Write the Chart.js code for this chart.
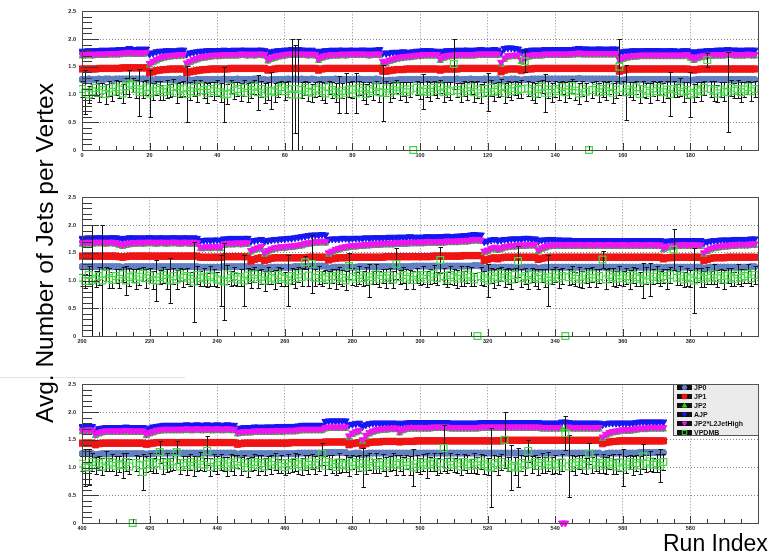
<!DOCTYPE html>
<html>
<head>
<meta charset="utf-8">
<script src="https://cdn.jsdelivr.net/npm/chart.js@4.4.1/dist/chart.umd.min.js"></script>
<style>
  body { margin: 0; background: #fff; }
  #page { position: relative; width: 777px; height: 560px; overflow: hidden; background: #fff; font-family: "Liberation Sans", Arial, sans-serif; }
  .panel { position: absolute; left: 0; filter: blur(0.35px); }
  #ytitle { position: absolute; left: 0; top: 0; transform-origin: 0 0; transform: translate(33px, 423px) rotate(-90deg);
            font-size: 24.5px; line-height: 1; white-space: nowrap; color: #000; }
  #xtitle { position: absolute; left: 663px; top: 532px; font-size: 23px; line-height: 1; white-space: nowrap; color: #000; }
  #rule { position: absolute; left: 0; top: 377px; width: 185px; height: 1px; background: #e4e4e4; }
</style>
</head>
<body>
<div id="page">
  <div id="rule"></div>
  <canvas id="p0" class="panel" width="777" height="161" style="top:2px"></canvas>
  <canvas id="p1" class="panel" width="777" height="161" style="top:188px"></canvas>
  <canvas id="p2" class="panel" width="777" height="161" style="top:375px"></canvas>
  <div id="ytitle">Avg. Number of Jets per Vertex</div>
  <div id="xtitle">Run Index</div>
</div>
<script>
// run index ranges shown in the three pads
const PANEL_RANGES = [[0, 200], [200, 400], [400, 600]];
const X_STEP = 20;
const Y_MAX = 2.5;
const Y_STEP = 0.5;

// all values below are in units of 0.01 (avg jets per vertex x 100), one entry per run, runs 0..572
const JP0 = [
  // runs 0-199
  127,127,128,127,127,128,127,128,128,127, 128,128,128,128,128,128,128,128,128,128,
  125,126,127,127,127,127,127,127,127,128, 127,125,126,126,127,127,127,127,127,127,
  127,127,128,127,127,127,128,127,127,127, 127,128,127,127,127,126,127,127,127,127,
  127,128,127,128,127,128,127,127,128,127, 126,127,127,127,127,128,127,127,127,127,
  127,127,128,127,127,127,127,128,127,125, 125,126,126,126,127,127,127,127,127,127,
  127,127,127,127,127,127,126,127,127,127, 127,128,127,127,127,128,127,127,127,128,
  128,127,127,128,125,127,127,128,128,127, 126,127,127,128,128,128,128,128,128,128,
  128,128,128,128,128,128,128,129,128,128, 128,128,128,128,128,128,128,128,128,125,
  126,127,127,127,127,127,127,127,127,127, 127,127,127,127,127,127,127,127,127,127,
  126,126,127,127,127,127,127,127,127,127, 127,127,127,127,127,127,127,127,127,127,
  // runs 200-399
  125,125,125,125,125,125,125,125,125,125, 125,125,124,125,125,125,125,125,125,125,
  125,125,125,125,125,125,125,125,125,125, 125,125,125,125,125,124,124,124,124,124,
  124,124,125,125,125,125,125,125,125,125, 122,123,124,124,122,123,124,124,124,124,
  124,124,124,125,125,125,125,126,126,126, 126,126,126,122,123,124,124,124,124,124,
  124,124,125,125,125,125,125,125,125,125, 125,125,125,125,125,125,125,125,126,126,
  126,126,126,126,126,126,126,126,126,126, 126,126,126,126,126,126,127,127,126,122,
  123,124,124,123,124,124,124,124,124,124, 124,124,124,124,124,122,123,124,124,124,
  124,124,124,124,124,124,124,124,124,124, 124,124,124,124,124,124,124,124,124,124,
  124,124,124,124,124,124,124,124,124,124, 124,124,123,124,124,124,124,124,124,124,
  124,124,124,124,122,123,124,124,124,124, 124,124,124,124,124,124,124,124,125,125,
  // runs 400-572
  125,125,125,125,123,124,125,125,125,125, 125,125,125,125,125,125,125,125,125,124,
  125,125,126,126,126,126,126,126,126,126, 126,126,126,126,126,126,126,126,126,126,
  126,126,126,126,126,126,124,125,125,125, 125,125,125,125,125,125,125,125,125,125,
  125,125,125,125,126,126,126,126,126,126, 126,126,127,127,127,127,127,127,127,124,
  125,126,126,123,125,126,126,126,126,126, 126,126,126,126,126,126,126,126,126,126,
  126,126,126,126,126,126,126,126,126,126, 126,126,126,126,126,126,126,126,126,126,
  126,126,126,126,126,126,126,126,126,126, 126,126,126,126,126,126,126,126,126,126,
  126,126,126,126,126,126,126,126,126,126, 126,126,126,126,123,125,126,126,126,126,
  126,126,126,126,126,127,127,127,127,127, 127,127,127
];

const JP1 = [
  146,146,146,146,146,147,147,147,147,147, 147,147,148,148,148,148,148,148,148,148,
  139,141,143,144,145,145,146,146,146,146, 146,139,141,142,143,144,145,145,146,146,
  146,146,146,146,147,147,147,147,147,147, 147,147,147,147,147,144,145,146,147,147,
  147,147,147,147,147,147,147,147,147,147, 144,146,147,147,147,147,147,147,147,147,
  147,147,147,147,147,147,147,147,147,142, 142,143,144,145,145,145,146,146,146,146,
  146,146,146,146,146,146,144,146,146,146, 146,146,147,147,147,147,147,147,147,147,
  147,147,147,147,141,144,146,146,146,146, 143,145,146,146,147,147,147,147,147,147,
  147,147,147,147,147,147,147,147,147,147, 147,147,147,147,147,147,147,147,147,142,
  144,145,146,146,146,146,146,146,146,146, 146,146,146,146,146,146,146,146,146,146,
  145,144,145,146,146,146,146,146,146,146, 146,146,146,146,146,146,146,146,146,146,

  144,144,144,144,144,144,144,144,144,144, 144,143,142,143,144,144,144,144,144,144,
  144,144,144,144,144,144,144,144,144,144, 144,144,144,144,144,142,142,142,142,142,
  142,142,143,143,143,143,143,143,143,143, 135,138,140,141,136,138,140,141,141,141,
  141,141,141,141,141,141,141,142,142,142, 142,142,142,137,139,140,141,141,141,142,
  142,142,142,142,142,142,142,142,142,142, 143,143,143,143,143,143,143,143,143,143,
  143,143,143,143,144,144,144,144,144,144, 144,144,144,145,145,145,145,145,145,136,
  138,140,141,139,141,142,142,142,142,142, 142,142,142,142,142,138,140,141,142,142,
  142,142,142,142,142,142,142,142,142,142, 142,142,142,142,142,142,142,142,142,142,
  142,142,142,142,142,142,142,142,142,142, 142,142,139,141,141,142,142,142,142,142,
  142,142,142,142,136,138,140,141,141,141, 141,142,142,142,142,142,142,142,142,142,

  144,144,144,144,141,143,144,144,144,144, 144,144,144,144,144,144,144,144,144,142,
  143,144,145,145,145,145,145,145,145,145, 145,145,145,145,145,145,145,145,145,145,
  145,145,145,145,145,145,142,143,144,144, 144,144,144,144,144,144,144,144,144,144,
  144,144,145,145,145,145,145,145,145,145, 145,145,146,146,146,146,146,146,146,141,
  143,144,145,140,143,145,146,146,146,147, 147,147,147,147,146,147,147,147,147,148,
  148,148,148,148,148,148,148,148,148,148, 148,148,148,148,148,148,148,148,148,148,
  148,148,148,148,148,149,149,149,149,149, 149,149,149,149,149,149,149,149,149,149,
  149,149,149,149,149,149,149,149,149,149, 149,149,149,149,143,145,146,147,147,148,
  148,148,148,148,148,148,148,148,148,148, 148,148,148
];

const JP2 = [
  169,169,170,169,170,170,170,170,171,171, 171,171,172,172,173,172,172,172,172,173,
  153,157,160,163,165,166,167,168,168,169, 169,154,157,160,162,164,165,166,167,168,
  168,168,169,169,169,169,169,170,170,169, 170,169,170,170,169,160,163,165,167,168,
  169,170,170,170,170,170,170,169,170,169, 161,165,167,168,169,169,169,170,169,170,
  170,170,170,170,170,169,170,170,170,157, 155,159,161,163,164,165,166,166,167,168,
  168,169,169,169,169,169,161,165,167,168, 168,169,169,169,169,169,169,170,170,170,
  170,170,170,170,155,163,167,168,168,168, 159,164,167,168,169,169,169,170,170,170,
  170,170,170,170,170,171,171,172,171,171, 171,171,171,171,171,171,171,171,171,160,
  163,165,166,167,167,168,168,168,168,168, 168,168,168,168,168,168,168,168,168,169,
  165,161,164,166,167,168,168,169,169,169, 169,170,170,169,169,169,169,170,169,169,

  165,165,166,165,166,166,166,165,166,166, 165,163,161,163,164,165,165,166,165,166,
  166,166,165,166,166,165,166,166,166,165, 166,166,165,166,165,157,157,158,157,158,
  158,157,163,164,164,164,165,164,165,165, 151,154,156,158,147,151,154,156,157,158,
  158,159,159,160,161,162,164,165,166,167, 167,168,167,147,150,153,155,157,158,159,
  160,160,161,161,162,162,163,163,163,164, 164,164,164,165,165,165,165,166,166,166,
  166,166,167,167,167,167,167,167,168,168, 168,168,169,169,169,170,171,171,170,150,
  152,155,157,154,156,158,159,160,160,161, 161,161,162,162,162,152,156,158,160,161,
  161,162,161,161,162,161,161,162,161,161, 162,161,161,162,161,161,162,161,161,161,
  162,161,161,161,162,161,161,161,162,161, 161,161,155,158,159,160,161,161,162,161,
  161,162,161,161,147,152,155,157,158,159, 160,160,161,161,162,162,162,162,163,163,

  164,164,165,164,157,160,162,163,163,163, 163,163,163,164,163,163,163,163,163,157,
  160,162,164,165,166,166,166,166,166,166, 166,167,166,166,167,166,166,167,166,166,
  167,166,166,167,166,166,160,161,162,162, 162,163,163,163,163,163,163,163,164,163,
  164,164,164,164,165,166,166,166,166,166, 166,166,169,170,170,170,170,170,170,154,
  159,162,164,147,155,160,163,165,166,167, 167,168,168,168,162,166,168,169,169,169,
  169,169,169,169,170,170,170,170,170,169, 169,169,169,169,169,169,169,169,170,170,
  170,170,170,170,170,170,170,170,170,170, 170,170,170,170,170,170,169,169,169,169,
  169,169,169,169,170,169,169,169,169,169, 169,169,169,169,152,157,160,162,163,164,
  165,165,165,166,167,168,168,168,169,169, 169,169,169
];

const AJP = [
  178,178,179,178,179,179,180,179,180,180, 180,181,181,181,183,181,181,182,181,182,
  173,175,177,178,178,179,179,178,179,180, 180,173,175,176,177,178,178,179,179,179,
  179,179,180,179,179,180,179,180,180,179, 180,179,180,180,179,175,177,178,179,179,
  180,180,181,180,181,180,180,179,180,178, 176,178,179,179,180,179,180,180,179,180,
  180,179,180,180,180,179,180,180,181,175, 174,175,176,176,176,177,176,176,177,178,
  178,179,179,179,178,178,176,178,179,179, 179,180,179,180,180,179,180,180,181,180,
  180,180,181,180,176,183,184,184,183,182, 177,178,179,180,180,180,180,181,180,181,
  181,181,181,181,181,181,182,183,182,182, 182,181,182,182,182,181,182,182,182,175,
  177,178,178,179,179,178,179,179,179,179, 179,179,178,179,179,179,178,178,179,179,
  177,175,177,178,178,179,179,179,180,180, 180,181,180,180,180,179,180,180,180,180,

  176,176,177,176,177,177,177,176,177,177, 177,176,175,176,177,177,176,177,176,177,
  177,177,176,177,177,176,177,177,177,176, 177,177,176,177,176,172,172,173,172,173,
  173,172,175,175,176,175,176,175,176,176, 171,172,173,174,170,172,173,174,174,175,
  175,176,176,177,178,179,180,181,182,182, 182,183,182,174,175,175,175,176,176,175,
  176,176,176,176,177,176,177,177,177,177, 177,178,177,178,178,178,178,179,178,178,
  178,178,179,179,178,179,179,179,180,179, 179,180,180,181,181,182,183,182,182,170,
  171,173,174,172,173,174,174,175,175,175, 175,176,176,175,175,171,173,173,174,174,
  173,173,173,172,173,172,172,172,172,172, 172,172,172,172,172,172,172,171,172,172,
  171,172,172,172,172,172,172,172,172,172, 172,172,170,171,171,172,172,172,172,172,
  172,172,172,172,168,170,171,172,172,173, 173,173,173,174,174,174,174,174,175,175,

  174,174,175,174,166,170,171,172,172,172, 172,172,172,173,172,172,172,172,172,168,
  171,173,174,175,176,176,176,176,176,176, 176,177,176,176,177,176,176,177,176,176,
  177,176,176,177,176,176,170,171,172,172, 172,173,173,172,173,173,173,173,174,173,
  174,174,174,174,175,176,176,176,176,176, 176,176,183,184,184,184,184,184,184,177,
  178,179,180,174,177,179,180,180,180,180, 180,180,180,180,178,180,180,181,181,181,
  181,181,181,181,181,181,181,181,181,180, 180,180,180,180,180,180,180,180,181,181,
  181,181,181,181,181,181,181,181,181,181, 181,181,181,181,181,181,180,180,180,180,
  180,180,182,182,181,180,180,180,180,180, 180,180,180,180,177,179,180,180,180,180,
  180,180,180,180,181,182,182,182,182,182, 182,182,182
];

const L2JETHIGH = [
  172,172,173,172,173,173,173,173,174,174, 174,174,175,175,176,175,175,175,175,176,
  156,160,163,166,168,169,170,171,171,172, 172,157,160,163,165,167,168,169,170,171,
  171,171,172,172,172,172,172,173,173,172, 173,172,173,173,172,163,166,168,170,171,
  172,173,173,173,173,173,173,172,173,172, 164,168,170,171,172,172,172,173,172,173,
  173,173,173,173,173,172,173,173,173,160, 158,162,164,166,167,168,169,169,170,171,
  171,172,172,172,172,172,164,168,170,171, 171,172,172,172,172,172,172,173,173,173,
  173,173,173,173,158,166,170,171,171,171, 162,167,170,171,172,172,172,173,173,173,
  173,173,173,173,173,174,174,175,174,174, 174,174,174,174,174,174,174,174,174,163,
  166,168,169,170,170,171,171,171,171,171, 171,171,171,171,171,171,171,171,171,172,
  168,164,167,169,170,171,171,172,172,172, 172,173,173,172,172,172,172,173,172,172,

  168,168,169,168,169,169,169,168,169,169, 168,166,164,166,167,168,168,169,168,169,
  169,169,168,169,169,168,169,169,169,168, 169,169,168,169,168,160,160,161,160,161,
  161,160,166,167,167,167,168,167,168,168, 154,157,159,161,150,154,157,159,160,161,
  161,162,162,163,164,165,167,168,169,170, 170,171,170,150,153,156,158,160,161,162,
  163,163,164,164,165,165,166,166,166,167, 167,167,167,168,168,168,168,169,169,169,
  169,169,170,170,170,170,170,170,171,171, 171,171,172,172,172,173,174,174,173,153,
  155,158,160,157,159,161,162,163,163,164, 164,164,165,165,165,155,159,161,163,164,
  164,165,164,164,165,164,164,165,164,164, 165,164,164,165,164,164,165,164,164,164,
  165,164,164,164,165,164,164,164,165,164, 164,164,158,161,162,163,164,164,165,164,
  164,165,164,164,150,155,158,160,161,162, 163,163,164,164,165,165,165,165,166,166,

  167,167,168,167,160,163,165,166,166,166, 166,166,166,167,166,166,166,166,166,160,
  163,165,167,168,169,169,169,169,169,169, 169,170,169,169,170,169,169,170,169,169,
  170,169,169,170,169,169,163,164,165,165, 165,166,166,166,166,166,166,166,167,166,
  167,167,167,167,168,169,169,169,169,169, 169,169,172,173,173,173,173,173,173,157,
  162,165,167,150,158,163,166,168,169,170, 170,171,171,171,165,169,171,172,172,172,
  172,172,172,172,173,173,173,173,173,172, 172,172,172,172,172,172,172,172,173,173,
  173,173,173,173,173,173,173,173,173,173, 173,173,173,173,173,173,172,172,172,172,
  172,172,0,0,173,172,172,172,172,172, 172,172,172,172,155,160,163,165,166,167,
  168,168,168,169,170,171,171,171,172,172, 172,172,172
];

const VPDMB = [
  110,104,100,106,112,103,108,101,111,105, 113,109,102,115,120,117,110,104,109,113,
  102,106,112,108,104,110,107,113,103,109, 111,101,106,112,104,115,108,103,110,106,
  112,104,100,101,114,107,110,105,112,103, 108,114,104,110,102,107,107,104,109,113,
  106,110,100,110,100,108,112,105,103,109, 111,106,102,113,108,104,100,107,103,109,
  109,102,112,107,101,110,106,113,104,103, 111,103,108,114,106,110,104,109,0,112,
  107,105,110,105,112,108,114,104,109,106, 155,108,103,111,106,113,104,109,102,110,
  104,112,105,109,113,103,110,106,112,108, 110,160,111,107,102,110,114,103,109,103,
  110,106,113,104,109,115,107,102,111,105, 0,108,112,104,110,106,113,103,109,150,
  112,104,109,106,113,101,110,107,103,111, 106,112,104,109,101,110,107,113,105,108,
  100,103,109,106,112,162,110,107,102,109, 105,104,112,107,110,104,109,113,106,110,

  105,99,110,100,103,108,100,112,104,101, 108,103,111,100,106,109,102,107,112,104,
  109,101,100,106,110,103,100,108,102,111, 105,108,103,98,110,104,107,101,109,106,
  102,100,98,111,104,108,102,106,100,109, 104,111,103,107,100,109,105,102,110,106,
  103,100,108,104,111,106,133,109,130,105, 110,104,107,102,108,103,109,105,100,126,
  107,103,110,104,108,100,106,111,103,108, 104,109,102,130,106,110,103,107,101,109,
  105,110,103,107,112,104,137,108,102,110, 106,103,109,104,111,107,102,0,108,104,
  100,109,103,107,112,105,108,102,110,135, 104,108,101,110,106,103,109,105,100,107,
  111,104,108,0,106,110,103,107,102,109, 105,111,104,108,138,102,110,106,103,109,
  104,108,102,110,106,103,100,109,102,107, 111,104,108,103,110,156,105,109,102,107,
  104,100,110,106,103,109,105,111,104,108, 102,109,106,103,111,105,108,112,104,110,

  107,100,101,110,104,108,102,111,105,109, 103,106,104,110,102,0,108,104,92,106,
  110,104,108,128,103,109,105,111,128,102, 108,104,110,103,107,112,105,130,101,109,
  104,110,106,102,109,105,111,103,108,100, 106,110,104,108,102,109,105,111,103,107,
  101,108,104,110,106,102,109,105,111,104, 108,125,103,110,106,101,109,104,107,102,
  110,105,108,100,106,111,103,108,104,109, 102,107,111,105,108,103,110,104,100,107,
  103,109,104,106,110,102,108,135,104,111, 105,108,102,110,106,103,109,104,111,106,
  102,100,108,104,110,150,106,100,103,100, 108,104,130,106,110,103,108,105,111,104,
  107,102,109,162,102,108,104,110,106,103, 125,105,109,103,108,104,110,106,102,109,
  100,106,110,103,108,104,120,107,111,105, 108,103,110
];

// symmetric statistical error on VPDMB, same units
const VPDMB_ERR = [
  14,40,16,13,15,17,12,18,14,16, 13,15,17,14,25,12,16,42,15,13,
  42,15,13,17,14,16,12,15,18,14, 13,50,16,14,17,12,15,18,13,16,
  14,17,50,18,12,15,13,16,14,17, 15,13,32,14,18,16,33,17,14,12,
  16,14,100,80,100,15,13,17,16,14, 13,16,18,12,15,17,33,14,36,13,
  15,36,12,16,18,13,15,12,17,50, 14,17,15,12,16,13,18,14,0,13,
  15,32,14,17,13,15,12,18,14,16, 45,13,17,14,16,12,18,15,17,13,
  34,14,16,13,15,18,14,16,12,15, 17,20,13,16,18,14,12,34,15,17,
  14,16,12,18,15,13,17,19,14,16, 0,15,13,17,14,16,12,18,15,50,
  13,50,14,16,12,17,15,13,18,14, 16,13,17,15,40,14,12,16,18,15,
  40,16,14,17,13,13,15,18,16,14, 17,72,15,13,16,18,14,12,17,15,

  15,13,17,100,14,16,100,12,18,15, 13,17,14,26,16,12,18,15,13,17,
  14,16,37,13,15,18,40,14,17,12, 16,15,13,72,17,14,16,12,18,15,
  13,46,70,17,14,16,12,15,46,13, 17,14,16,13,18,15,12,17,14,16,
  13,46,15,17,14,16,12,18,52,15, 17,14,12,16,13,18,15,14,17,23,
  15,13,17,14,16,30,12,18,15,13, 17,14,16,28,13,15,18,12,16,14,
  13,17,15,14,16,12,24,15,13,17, 14,16,18,13,15,17,12,0,16,14,
  30,13,17,15,12,16,14,18,13,28, 16,14,17,13,15,18,12,16,46,14,
  13,17,15,0,14,16,12,18,15,13, 17,14,16,13,15,18,12,16,14,17,
  13,15,17,14,16,12,32,15,30,13, 16,14,12,18,15,37,13,17,14,16,
  15,58,13,17,14,16,12,18,15,13, 17,14,16,12,18,15,13,17,14,16,

  14,33,33,17,15,13,16,18,12,15, 17,14,22,16,13,0,15,17,32,14,
  16,13,18,20,15,17,12,16,20,14, 13,17,15,18,14,16,12,26,17,15,
  16,14,13,17,15,18,12,16,14,17, 13,15,18,14,16,12,17,15,13,16,
  14,17,12,16,18,15,13,17,14,16, 15,20,17,13,16,14,18,12,15,17,
  13,16,14,36,17,15,12,18,14,16, 17,13,15,18,14,16,12,17,33,15,
  14,16,22,13,17,15,18,42,14,16, 13,17,15,14,16,12,18,15,13,17,
  16,72,14,17,15,50,13,40,16,35, 14,17,20,15,13,16,18,14,17,15,
  16,13,15,30,56,14,17,12,16,15, 19,14,16,13,17,15,12,18,14,16,
  33,15,13,17,14,16,22,15,18,13, 16,30,14
];

const SERIES = [
  { label: "JP0",           values: JP0,       color: "#5b7cc0", fill: "#6383c4", pointStyle: "circle",   radius: 3.2, rotation: 0,   order: 5 },
  { label: "JP1",           values: JP1,       color: "#f01414", fill: "#f01414", pointStyle: "rect",     radius: 4.4, rotation: 0,   order: 4 },
  { label: "JP2",           values: JP2,       color: "#1ed21e", fill: "#1ed21e", pointStyle: "triangle", radius: 3.6, rotation: 0,   order: 3 },
  { label: "AJP",           values: AJP,       color: "#1616f0", fill: "#1616f0", pointStyle: "triangle", radius: 4,   rotation: 180, order: 2 },
  { label: "JP2*L2JetHigh", values: L2JETHIGH, color: "#f014f0", fill: "#f014f0", pointStyle: "triangle", radius: 4,   rotation: 180, order: 1 },
  { label: "VPDMB",         values: VPDMB,     color: "#45d845", fill: "rgba(0,0,0,0)", pointStyle: "rect", radius: 4.8, rotation: 0, order: 0, errors: VPDMB_ERR }
];

// black vertical error bars with small caps, drawn just before the VPDMB markers
const errorBars = {
  id: "errorBars",
  beforeDatasetDraw(chart, args) {
    const ds = chart.data.datasets[args.index];
    if (!ds.errors) return;
    const xs = chart.scales.x, ys = chart.scales.y, ctx = chart.ctx;
    ctx.save();
    ctx.strokeStyle = "#141414";
    ctx.lineWidth = 1;
    ctx.beginPath();
    ds.data.forEach((p, i) => {
      const e = ds.errors[i];
      if (!e) return;
      const px = Math.round(xs.getPixelForValue(p.x)) + 0.5;
      const lo = Math.round(ys.getPixelForValue(p.y - e)) + 0.5;
      const hi = Math.round(ys.getPixelForValue(p.y + e)) + 0.5;
      ctx.moveTo(px, lo); ctx.lineTo(px, hi);
      ctx.moveTo(px - 2, lo); ctx.lineTo(px + 2.5, lo);
      ctx.moveTo(px - 2, hi); ctx.lineTo(px + 2.5, hi);
    });
    ctx.stroke();
    ctx.restore();
  }
};

// ROOT-like frame with inner tick marks
const rootFrame = {
  id: "rootFrame",
  afterDraw(chart) {
    const { ctx, chartArea: a } = chart;
    const xs = chart.scales.x, ys = chart.scales.y;
    ctx.save();
    ctx.strokeStyle = "#3a3a3a";
    ctx.lineWidth = 1;
    ctx.beginPath();
    for (let k = 0; k <= 25; k++) {
      const py = Math.round(ys.getPixelForValue(k / 10)) + 0.5;
      const len = k % 5 === 0 ? 17 : 10;
      ctx.moveTo(a.left, py); ctx.lineTo(a.left + len, py);
    }
    for (let r = xs.min; r <= xs.max; r += 5) {
      const px = Math.round(xs.getPixelForValue(r)) + 0.5;
      const len = r % X_STEP === 0 ? 7 : 4;
      ctx.moveTo(px, a.bottom); ctx.lineTo(px, a.bottom - len);
    }
    ctx.stroke();
    ctx.strokeStyle = "#4a4a4a";
    ctx.strokeRect(Math.round(a.left) + 0.5, Math.round(a.top) + 0.5,
                   Math.round(a.right - a.left), Math.round(a.bottom - a.top));
    ctx.restore();
  }
};

function drawMarker(ctx, s, x, y, r) {
  ctx.beginPath();
  if (s.pointStyle === "circle") {
    ctx.arc(x, y, r, 0, Math.PI * 2);
  } else if (s.pointStyle === "rect") {
    ctx.rect(x - r, y - r, 2 * r, 2 * r);
  } else {
    const d = s.rotation ? 1 : -1;
    ctx.moveTo(x, y + d * r);
    ctx.lineTo(x - r, y - d * r * 0.7);
    ctx.lineTo(x + r, y - d * r * 0.7);
    ctx.closePath();
  }
  ctx.fillStyle = s.fill;
  ctx.strokeStyle = s.color;
  ctx.lineWidth = 1;
  ctx.fill();
  ctx.stroke();
}

const legendBox = {
  id: "legendBox",
  afterDraw(chart, args, opts) {
    if (!opts.show) return;
    const ctx = chart.ctx, a = chart.chartArea;
    const w = 85, h = 51;
    const left = Math.round(a.right) - w, top = Math.round(a.top);
    ctx.save();
    ctx.fillStyle = "#ebebeb";
    ctx.fillRect(left, top, w, h);
    ctx.strokeStyle = "#555";
    ctx.lineWidth = 1;
    ctx.strokeRect(left + 0.5, top + 0.5, w, h);
    ctx.font = "bold 7px 'Liberation Sans', Arial, sans-serif";
    ctx.textBaseline = "middle";
    SERIES.forEach((s, i) => {
      const cy = top + 3.5 + i * 9;
      ctx.fillStyle = "#111";
      ctx.fillRect(left + 4, cy - 2.5, 15, 5);
      drawMarker(ctx, s, left + 11.5, cy, 2.2);
      ctx.fillStyle = "#111";
      ctx.fillText(s.label, left + 21, cy + 0.5);
    });
    ctx.restore();
  }
};

const tickFont = { family: "'Liberation Sans', Arial, sans-serif", size: 5.5, weight: "bold" };

function makePanel(id, p) {
  const [lo, hi] = PANEL_RANGES[p];
  const datasets = SERIES.map(s => {
    const pts = [];
    for (let run = lo; run < Math.min(hi, s.values.length); run++) {
      pts.push({ x: run, y: s.values[run] / 100 });
    }
    const errs = s.errors ? s.errors.slice(lo, lo + pts.length).map(e => e / 100) : undefined;
    return {
      label: s.label,
      data: pts,
      errors: errs,
      order: s.order,
      pointStyle: s.pointStyle,
      rotation: s.rotation,
      pointRadius: s.radius,
      pointBackgroundColor: s.fill,
      pointBorderColor: s.color,
      pointBorderWidth: s.errors ? 1.2 : 1,
      showLine: false,
      clip: { left: 3, top: 5, right: 3, bottom: 6 }
    };
  });

  new Chart(document.getElementById(id), {
    type: "scatter",
    data: { datasets },
    plugins: [errorBars, rootFrame, legendBox],
    options: {
      responsive: false,
      animation: false,
      events: [],
      layout: { padding: { top: 8, right: 19, left: 0, bottom: 0 } },
      plugins: {
        legend: { display: false },
        tooltip: { enabled: false },
        legendBox: { show: p === 2 }
      },
      scales: {
        x: {
          type: "linear", min: lo, max: hi,
          afterFit: s => { s.height = 13; },
          ticks: {
            stepSize: X_STEP, autoSkip: false, maxRotation: 0, padding: 2,
            color: "#222", font: tickFont,
            callback: v => (v === hi ? "" : String(v))
          },
          grid: { color: "#8c8c8c", lineWidth: 1, drawTicks: false },
          border: { display: false, dash: [1, 2] }
        },
        y: {
          min: 0, max: Y_MAX,
          afterFit: s => { s.width = 82; },
          ticks: { stepSize: Y_STEP, padding: 6, color: "#222", font: tickFont },
          grid: { color: "#8c8c8c", lineWidth: 1, drawTicks: false },
          border: { display: false, dash: [1, 2] }
        }
      }
    }
  });
}

makePanel("p0", 0);
makePanel("p1", 1);
makePanel("p2", 2);
</script>
</body>
</html>
